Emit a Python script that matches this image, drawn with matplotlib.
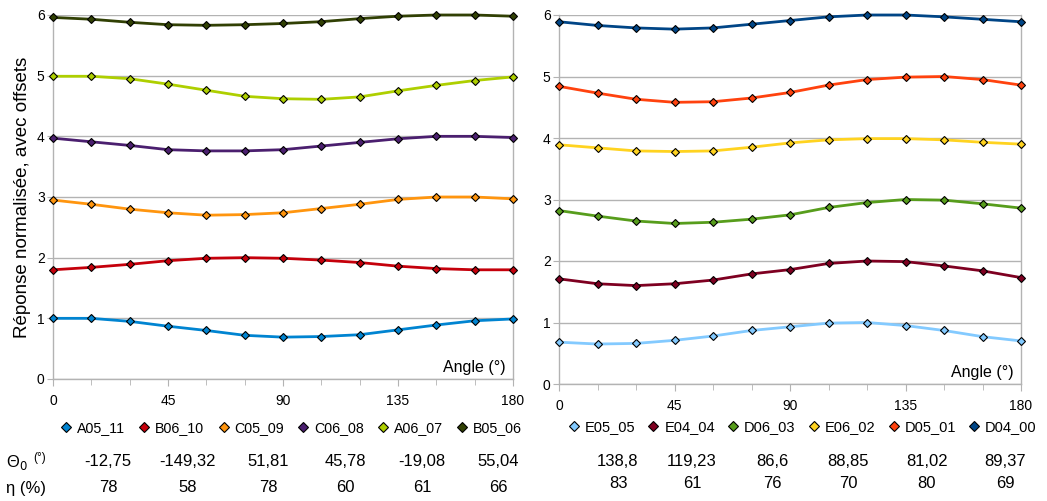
import matplotlib
matplotlib.use("Agg")
import matplotlib.pyplot as plt
from matplotlib.ticker import MultipleLocator
from matplotlib.lines import Line2D

plt.rcParams['font.family'] = ['Liberation Sans', 'DejaVu Sans']

angles = [0, 15, 30, 45, 60, 75, 90, 105, 120, 135, 150, 165, 180]

# Left panel series (bottom to top)
left_names = ["A05_11", "B06_10", "C05_09", "C06_08", "A06_07", "B05_06"]
left_colors = ["#0084d1", "#c5000b", "#ff950e", "#4b1f6f", "#aecf00", "#314004"]
A05_11 = [1.00, 1.00, 0.95, 0.87, 0.80, 0.72, 0.69, 0.70, 0.73, 0.81, 0.89, 0.96, 0.99]
B06_10 = [1.80, 1.84, 1.89, 1.95, 1.99, 2.00, 1.99, 1.96, 1.92, 1.86, 1.82, 1.80, 1.80]
C05_09 = [2.95, 2.88, 2.80, 2.74, 2.70, 2.71, 2.74, 2.81, 2.88, 2.96, 3.00, 3.00, 2.97]
C06_08 = [3.97, 3.91, 3.85, 3.78, 3.76, 3.76, 3.78, 3.84, 3.90, 3.96, 4.00, 4.00, 3.98]
A06_07 = [4.99, 4.99, 4.95, 4.86, 4.76, 4.66, 4.62, 4.61, 4.65, 4.75, 4.84, 4.92, 4.98]
B05_06 = [5.96, 5.93, 5.88, 5.84, 5.83, 5.84, 5.86, 5.89, 5.94, 5.98, 6.00, 6.00, 5.98]
left_series = [A05_11, B06_10, C05_09, C06_08, A06_07, B05_06]
left_theta = ["-12,75", "-149,32", "51,81", "45,78", "-19,08", "55,04"]
left_eta = ["78", "58", "78", "60", "61", "66"]

# Right panel series (bottom to top)
right_names = ["E05_05", "E04_04", "D06_03", "E06_02", "D05_01", "D04_00"]
right_colors = ["#83caff", "#7e0021", "#579d1c", "#ffd320", "#ff420e", "#004586"]
E05_05 = [0.68, 0.65, 0.66, 0.71, 0.78, 0.87, 0.93, 0.99, 1.00, 0.95, 0.87, 0.77, 0.70]
E04_04 = [1.71, 1.63, 1.60, 1.63, 1.69, 1.79, 1.86, 1.96, 2.00, 1.99, 1.92, 1.84, 1.73]
D06_03 = [2.82, 2.73, 2.65, 2.61, 2.63, 2.68, 2.75, 2.87, 2.95, 3.00, 2.99, 2.93, 2.86]
E06_02 = [3.89, 3.84, 3.79, 3.78, 3.79, 3.85, 3.92, 3.97, 3.99, 3.99, 3.97, 3.93, 3.90]
D05_01 = [4.84, 4.73, 4.63, 4.58, 4.59, 4.65, 4.74, 4.86, 4.95, 4.99, 5.00, 4.95, 4.86]
D04_00 = [5.89, 5.83, 5.79, 5.77, 5.79, 5.85, 5.91, 5.97, 6.00, 6.00, 5.97, 5.93, 5.89]
right_series = [E05_05, E04_04, D06_03, E06_02, D05_01, D04_00]
right_theta = ["138,8", "119,23", "86,6", "88,85", "81,02", "89,37"]
right_eta = ["83", "61", "76", "70", "80", "69"]

W, H = 1047, 501
fig = plt.figure(figsize=(W / 100, H / 100), dpi=100)

def px_axes(x0, y0, x1, y1):
    return fig.add_axes([x0 / W, 1 - y1 / H, (x1 - x0) / W, (y1 - y0) / H])

axL = px_axes(53, 15, 513, 379)
axR = px_axes(559, 15, 1021, 384)

grid_c = "#b3b3b3"

def style(ax):
    ax.set_xlim(0, 180)
    ax.set_ylim(0, 6)
    ax.xaxis.set_major_locator(MultipleLocator(45))
    ax.xaxis.set_minor_locator(MultipleLocator(15))
    ax.yaxis.set_major_locator(MultipleLocator(1))
    ax.grid(axis='y', color=grid_c, linewidth=1.0)
    ax.set_axisbelow(True)
    for s in ax.spines.values():
        s.set_color(grid_c)
        s.set_linewidth(1.0)
    ax.spines['top'].set_visible(False)
    ax.tick_params(axis='both', which='both', color=grid_c, labelsize=10,
                   labelcolor='#000000')
    ax.tick_params(axis='x', which='major', length=5, pad=6)
    ax.tick_params(axis='x', which='minor', length=4)
    ax.tick_params(axis='y', which='major', length=4, pad=2)
    ax.text(0.985, 0.012, "Angle (°)", transform=ax.transAxes, ha='right',
            va='bottom', fontsize=11.5)

def plot_series(ax, names, colors, series):
    handles = []
    for name, col, vals in zip(names, colors, series):
        ax.plot(angles, vals, color=col, linewidth=2.0, marker='D',
                markersize=4.5, markeredgecolor='#000000',
                markeredgewidth=0.8, markerfacecolor=col, label=name,
                clip_on=False, zorder=3)
        handles.append(Line2D([], [], linestyle='none', marker='D',
                              markersize=5, markerfacecolor=col,
                              markeredgecolor='#000000', markeredgewidth=0.8))
    return handles

style(axL)
style(axR)
hL = plot_series(axL, left_names, left_colors, left_series)
hR = plot_series(axR, right_names, right_colors, right_series)

axL.set_ylabel("Réponse normalisée, avec offsets", fontsize=13.5, labelpad=4)

fig.legend(handles=hL, labels=left_names, loc='center',
           bbox_to_anchor=(292 / W, 1 - 428 / H), ncol=6, frameon=False,
           fontsize=10.3, handlelength=0.6, handletextpad=0.45,
           columnspacing=1.05, borderpad=0)
fig.legend(handles=hR, labels=right_names, loc='center',
           bbox_to_anchor=(803 / W, 1 - 427 / H), ncol=6, frameon=False,
           fontsize=10.5, handlelength=0.6, handletextpad=0.45,
           columnspacing=0.95, borderpad=0)

# Table rows
left_x = [108, 188, 268, 345, 422, 498]
right_x = [618, 692, 772, 848, 927, 1005]
for x, t, e in zip(left_x, left_theta, left_eta):
    fig.text(x / W, 1 - 462 / H, t, ha='center', va='center', fontsize=12)
    fig.text(x / W, 1 - 488 / H, e, ha='center', va='center', fontsize=12)
for x, t, e in zip(right_x, right_theta, right_eta):
    fig.text(x / W, 1 - 461 / H, t, ha='center', va='center', fontsize=12)
    fig.text(x / W, 1 - 484 / H, e, ha='center', va='center', fontsize=12)

fig.text(6 / W, 1 - 462 / H, "Θ$_0$", ha='left', va='center', fontsize=12)
fig.text(33 / W, 1 - 458 / H, "(°)", ha='left', va='center', fontsize=8.5)
fig.text(6 / W, 1 - 488 / H, "η (%)", ha='left', va='center', fontsize=12)

fig.savefig("out.png", dpi=100)
